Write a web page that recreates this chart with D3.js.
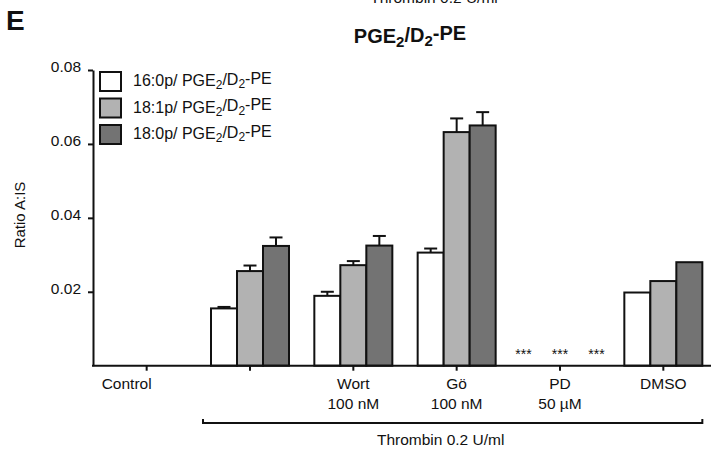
<!DOCTYPE html>
<html lang="en">
<head>
<meta charset="UTF-8">
<title>PGE2/D2-PE</title>
<script src="https://d3js.org/d3.v7.min.js"></script>
<style>
    body { margin: 0; background: #fff; font-family: "Liberation Sans", Arial, sans-serif; }
    svg text { fill: #111; }
</style>
</head>
<body>
<div class="chart"></div>
<script>
    // data
    const groups = ['Control', 'Thrombin', 'Wort', 'Gö', 'PD', 'DMSO'];
    const groupLabels = [['Control'], [], ['Wort', '100 nM'], ['Gö', '100 nM'], ['PD', '50 µM'], ['DMSO']];
    const seriesNames = ['16:0p', '18:1p', '18:0p'];
    const vals16_0 = [0, 0.0155, 0.0189, 0.0306, 0, 0.0198];
    const vals18_1 = [0, 0.0256, 0.0272, 0.0632, 0, 0.0229];
    const vals18_0 = [0, 0.0324, 0.0325, 0.0650, 0, 0.0280];
    const err16_0 = [0, 0.0004, 0.0011, 0.0011, 0, 0];
    const err18_1 = [0, 0.0015, 0.0011, 0.0037, 0, 0];
    const err18_0 = [0, 0.0023, 0.0026, 0.0036, 0, 0];
    const yTicks = [0.02, 0.04, 0.06, 0.08];
    const signif = {'PD': '***'};

    const colors = ['#ffffff', '#b2b2b2', '#737373'];
    const allVals = [vals16_0, vals18_1, vals18_0];
    const allErr = [err16_0, err18_1, err18_0];

    const W = 711, H = 451;
    const svg = d3.select('.chart').append('svg').attr('width', W).attr('height', H);

    const x = d3.scaleBand().domain(groups).range([95, 715]);
    const y = d3.scaleLinear().domain([0, 0.08]).range([365.7, 70]);
    const xs = d3.scaleBand().domain(seriesNames).range([-39, 39]);

    // writes "PGE2/D2-PE" style text with subscript 2s
    function subText(sel, parts) {
        parts.forEach(p => {
            const t = sel.append('tspan').text(p[0]);
            if (p[1]) t.attr('font-size', '0.75em').attr('dy', '0.28em');
            else t.attr('dy', p[2] ? '-0.28em' : 0);
        });
    }
    const pgeParts = [['PGE'], ['2', 1], ['/D', 0, 1], ['2', 1], ['-PE', 0, 1]];

    // panel letter + cut off text at top
    svg.append('text').attr('x', 6).attr('y', 30).attr('font-size', 28).attr('font-weight', 'bold').text('E');
    svg.append('text').attr('x', 434).attr('y', 3).attr('text-anchor', 'middle').attr('font-size', 15.5).text('Thrombin 0.2 U/ml');

    // title
    const title = svg.append('text').attr('x', 410).attr('y', 43).attr('text-anchor', 'middle')
        .attr('font-size', 20).attr('font-weight', 'bold');
    subText(title, pgeParts);

    // bars
    const rows = [];
    groups.forEach((g, i) => {
        seriesNames.forEach((s, j) => {
            rows.push({g: g, s: s, j: j, v: allVals[j][i], e: allErr[j][i]});
        });
    });
    const bars = rows.filter(d => d.v > 0);
    const cx = d => x(d.g) + x.bandwidth() / 2 + xs(d.s);

    // error bars under the bars
    const eb = bars.filter(d => d.e > 0);
    svg.selectAll('.err').data(eb).enter().append('line').attr('class', 'err')
        .attr('x1', d => cx(d) + xs.bandwidth() / 2).attr('x2', d => cx(d) + xs.bandwidth() / 2)
        .attr('y1', d => y(d.v)).attr('y2', d => y(d.v + d.e))
        .attr('stroke', '#111').attr('stroke-width', 2);
    svg.selectAll('.cap').data(eb).enter().append('line').attr('class', 'cap')
        .attr('x1', d => cx(d) + xs.bandwidth() / 2 - 6.5).attr('x2', d => cx(d) + xs.bandwidth() / 2 + 6.5)
        .attr('y1', d => y(d.v + d.e)).attr('y2', d => y(d.v + d.e))
        .attr('stroke', '#111').attr('stroke-width', 2);

    svg.selectAll('.bar').data(bars).enter().append('rect').attr('class', 'bar')
        .attr('x', d => cx(d)).attr('width', xs.bandwidth())
        .attr('y', d => y(d.v)).attr('height', d => y(0) - y(d.v))
        .attr('fill', d => colors[d.j]).attr('stroke', '#111').attr('stroke-width', 2);

    // significance marks
    Object.keys(signif).forEach(g => {
        seriesNames.forEach((s, j) => {
            svg.append('text').attr('x', x(g) + x.bandwidth() / 2 + (j - 1) * 36.5).attr('y', 359)
                .attr('text-anchor', 'middle').attr('font-size', 14).attr('fill', '#333').text(signif[g]);
        });
    });

    // y axis
    const yAxis = svg.append('g').attr('transform', 'translate(93,0)')
        .call(d3.axisLeft(y).tickValues(yTicks).tickFormat(d3.format('.2f')).tickSize(5).tickSizeOuter(0));
    yAxis.select('.domain').attr('stroke', '#111').attr('stroke-width', 2);
    yAxis.selectAll('.tick line').attr('stroke', '#111').attr('stroke-width', 2);
    yAxis.selectAll('.tick text').attr('font-size', 15.5).attr('font-family', '"Liberation Sans", Arial, sans-serif')
        .attr('x', -12).attr('dy', '0.1em').attr('fill', '#222');

    svg.append('text').attr('transform', 'translate(25,215) rotate(-90)').attr('text-anchor', 'middle')
        .attr('font-size', 15).text('Ratio A:IS');

    // x axis
    const xAxis = svg.append('g').attr('transform', 'translate(0,' + y(0) + ')')
        .call(d3.axisBottom(x).tickSize(5).tickSizeOuter(0).tickFormat(''));
    xAxis.select('.domain').attr('d', 'M92,0H711').attr('stroke', '#111').attr('stroke-width', 2);
    xAxis.selectAll('.tick line').attr('stroke', '#111').attr('stroke-width', 2);

    groups.forEach((g, i) => {
        const shift = i === 0 ? -20 : 0;
        groupLabels[i].forEach((l, k) => {
            svg.append('text').attr('x', x(g) + x.bandwidth() / 2 + shift).attr('y', 389 + k * 19.5)
                .attr('text-anchor', 'middle').attr('font-size', 15.5).text(l);
        });
    });

    // thrombin bracket
    const bx0 = x('Thrombin') + x.bandwidth() / 2 - 47, bx1 = x('DMSO') + x.bandwidth() / 2 + 39;
    svg.append('path').attr('d', `M${bx0},419V423H${bx1}V419`).attr('fill', 'none')
        .attr('stroke', '#111').attr('stroke-width', 2);
    svg.append('text').attr('x', (bx0 + bx1) / 2 - 12).attr('y', 445).attr('text-anchor', 'middle')
        .attr('font-size', 15.5).text('Thrombin 0.2 U/ml');

    // legend
    const leg = svg.append('g').attr('transform', 'translate(99,71)');
    seriesNames.forEach((s, j) => {
        leg.append('rect').attr('x', 1).attr('y', j * 26.5 + 1).attr('width', 21).attr('height', 19)
            .attr('fill', colors[j]).attr('stroke', '#111').attr('stroke-width', 2);
        const t = leg.append('text').attr('x', 34).attr('y', j * 26.5 + 15).attr('font-size', 16);
        subText(t, [[s + '/ PGE'], ['2', 1], ['/D', 0, 1], ['2', 1], ['-PE', 0, 1]]);
    });
</script>
</body>
</html>
